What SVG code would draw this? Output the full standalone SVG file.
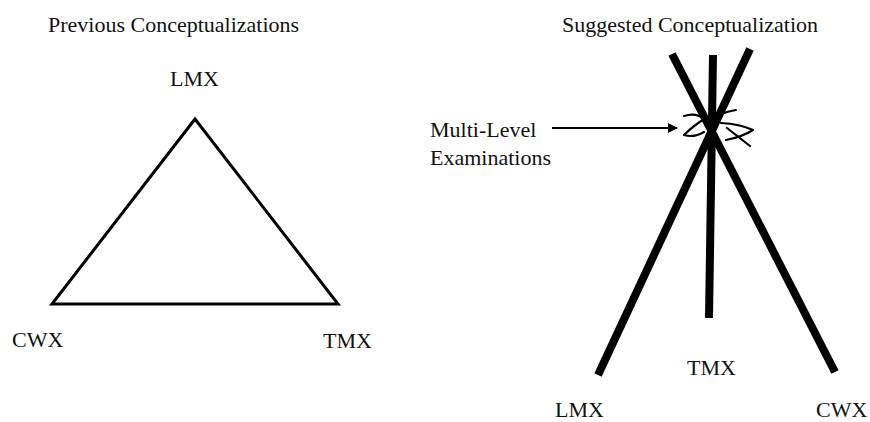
<svg xmlns="http://www.w3.org/2000/svg" width="870" height="422" viewBox="0 0 870 422">
<defs>
<style>
text{font-family:"Liberation Serif","Times New Roman",serif;font-size:22px;fill:#111}
.tri{fill:none;stroke:#000;stroke-width:3;stroke-linejoin:miter}
.bar{stroke:#000;stroke-width:8;stroke-linecap:butt}
.arrow{stroke:#000;stroke-width:2;fill:none}
.scrib{stroke:#000;stroke-width:2.2;fill:none;stroke-linejoin:round;stroke-linecap:round}
</style>
<marker id="ah" viewBox="0 0 10 10" refX="9" refY="5" markerWidth="5" markerHeight="5" orient="auto" markerUnits="strokeWidth">
<path d="M0,0 L10,5 L0,10 z" fill="#000"/>
</marker>
</defs>
<rect width="870" height="422" fill="#fff"/>
<g id="left-title"><text x="48" y="32">Previous Conceptualizations</text></g>
<g id="right-title"><text x="562" y="32">Suggested Conceptualization</text></g>
<g id="triangle"><polygon class="tri" points="195,119 52,304 338,304"/></g>
<g id="lmx-left"><text x="170" y="86">LMX</text></g>
<g id="cwx-left"><text x="12" y="347">CWX</text></g>
<g id="tmx-left"><text x="323" y="348">TMX</text></g>
<g id="bars">
<line class="bar" x1="672" y1="54" x2="835" y2="372"/>
<line class="bar" x1="750" y1="49" x2="598" y2="375"/>
<line class="bar" x1="713" y1="55" x2="709" y2="318"/>
</g>
<g id="multi-level">
<path class="scrib" d="M684,116 Q696,112 704,119 Q692,127 684,135 Q694,138 704,132"/>
<path class="scrib" d="M719,115 Q728,111 736,110"/>
<path class="scrib" d="M721,123 Q740,124 753,130 Q742,137 726,140"/>
<path class="scrib" d="M727,128 L750,146"/>
</g>
<g id="connectors">
<line class="arrow" x1="552" y1="128" x2="677" y2="128" marker-end="url(#ah)"/>
</g>
<g id="ml-label"><text x="430" y="137">Multi-Level</text><text x="430" y="165">Examinations</text></g>
<g id="tmx-right"><text x="687" y="375">TMX</text></g>
<g id="lmx-right"><text x="555" y="417">LMX</text></g>
<g id="cwx-right"><text x="816" y="417">CWX</text></g>
</svg>
